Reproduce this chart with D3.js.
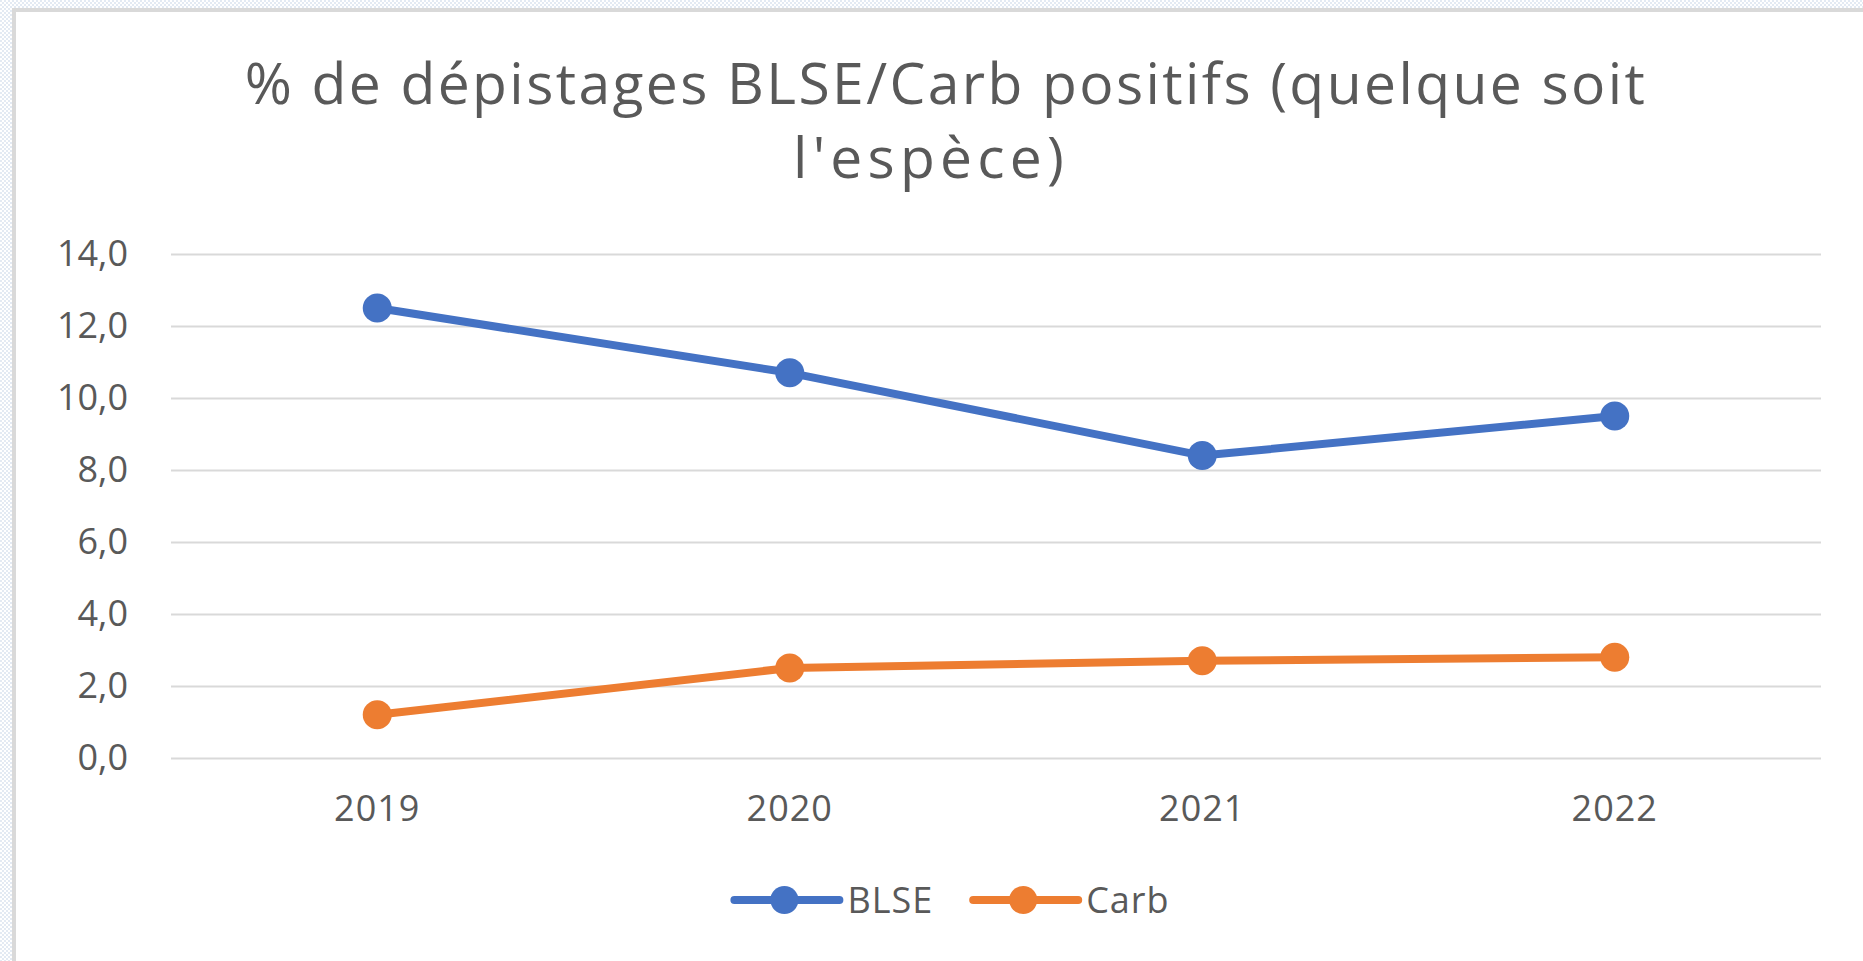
<!DOCTYPE html>
<html>
<head>
<meta charset="utf-8">
<script src="https://cdn.jsdelivr.net/npm/d3@7"></script>
<style>
  html, body { margin: 0; padding: 0; background: #fff; }
  svg { display: block; }
  text { font-family: 'Open Sans', 'Noto Sans', sans-serif; fill: #595959; }
</style>
</head>
<body>
<svg id="chart" width="1863" height="961"></svg>
<script>
// chart data
const years = ['2019', '2020', '2021', '2022'];
const blse = [12.5, 10.7, 8.4, 9.5];
const carb = [1.2, 2.5, 2.7, 2.8];
const yTicks = [0, 2, 4, 6, 8, 10, 12, 14];
const titleLines = ['% de dépistages BLSE/Carb positifs (quelque soit', 'l\'espèce)'];

const series = [
  { name: 'BLSE', values: blse, color: '#4472C4' },
  { name: 'Carb', values: carb, color: '#ED7D31' }
];

const width = 1863;
const height = 961;
const margin = { top: 254, right: 42, bottom: 203, left: 171 };
const plotW = width - margin.left - margin.right;
const plotH = height - margin.top - margin.bottom;

const svg = d3.select('#chart');

// checkered background outside the chart frame
const defs = svg.append('defs');
const pat = defs.append('pattern')
  .attr('id', 'checker')
  .attr('width', 4).attr('height', 4)
  .attr('patternUnits', 'userSpaceOnUse');
pat.append('rect').attr('width', 4).attr('height', 4).attr('fill', '#ffffff');
pat.append('rect').attr('width', 2).attr('height', 2).attr('fill', '#e3eaf3');
pat.append('rect').attr('x', 2).attr('y', 2).attr('width', 2).attr('height', 2).attr('fill', '#e3eaf3');

svg.append('rect')
  .attr('width', width).attr('height', height)
  .attr('fill', 'url(#checker)');

// chart frame
svg.append('rect')
  .attr('x', 14).attr('y', 10)
  .attr('width', width).attr('height', height)
  .attr('fill', '#ffffff')
  .attr('stroke', '#d9d9d9')
  .attr('stroke-width', 4);

// title (two lines, as wrapped in the original)
svg.append('text')
  .attr('x', 946).attr('y', 104)
  .attr('text-anchor', 'middle')
  .style('font-size', '57px')
  .style('letter-spacing', '2.4px')
  .text(titleLines[0]);
svg.append('text')
  .attr('x', 931).attr('y', 178)
  .attr('text-anchor', 'middle')
  .style('font-size', '57px')
  .style('letter-spacing', '5.2px')
  .text(titleLines[1]);

const g = svg.append('g')
  .attr('transform', `translate(${margin.left},${margin.top})`);

const x = d3.scaleBand().domain(years).range([0, plotW]);
const y = d3.scaleLinear().domain([0, 14]).range([plotH, 0]);
const cx = d => x(d) + x.bandwidth() / 2;

// y axis with gridlines
const yAxis = g.append('g')
  .attr('class', 'axis axis--y')
  .call(d3.axisLeft(y).tickValues(yTicks).tickSize(-plotW).tickPadding(43)
    .tickFormat(d => d.toFixed(1).replace('.', ',')));
yAxis.select('.domain').remove();
yAxis.selectAll('.tick line')
  .attr('stroke', '#d9d9d9')
  .attr('stroke-width', 2);
yAxis.selectAll('.tick text')
  .style('font-size', '36px')
  .attr('fill', '#595959');

// x axis labels
const xAxis = g.append('g')
  .attr('class', 'axis axis--x')
  .attr('transform', `translate(0,${plotH})`)
  .call(d3.axisBottom(x).tickSize(0));
xAxis.select('.domain').remove();
xAxis.selectAll('.tick text')
  .style('font-size', '36px')
  .style('letter-spacing', '1px')
  .attr('fill', '#595959')
  .attr('y', 63)
  .attr('dy', 0);

// lines and markers
const line = d3.line()
  .x((d, i) => cx(years[i]))
  .y(d => y(d));

series.forEach(s => {
  g.append('path')
    .datum(s.values)
    .attr('d', line)
    .attr('fill', 'none')
    .attr('stroke', s.color)
    .attr('stroke-width', 8)
    .attr('stroke-linejoin', 'round')
    .attr('stroke-linecap', 'round');

  g.selectAll(null)
    .data(s.values)
    .enter()
    .append('circle')
    .attr('cx', (d, i) => cx(years[i]))
    .attr('cy', d => y(d))
    .attr('r', 14.5)
    .attr('fill', s.color);
});

// legend
const legend = svg.append('g').attr('class', 'legend');
let lx = 0;
series.forEach((s, i) => {
  const item = legend.append('g').attr('transform', `translate(${lx},0)`);
  item.append('line')
    .attr('x1', 0).attr('x2', 105)
    .attr('y1', 0).attr('y2', 0)
    .attr('stroke', s.color)
    .attr('stroke-width', 8)
    .attr('stroke-linecap', 'round');
  item.append('circle')
    .attr('cx', 50).attr('cy', 0)
    .attr('r', 14)
    .attr('fill', s.color);
  const t = item.append('text')
    .attr('x', 113).attr('y', 13)
    .style('font-size', '36px')
    .style('letter-spacing', '1px')
    .text(s.name);
  lx += 113 + t.node().getComputedTextLength() + 40;
});
const legendW = lx - 40;
legend.attr('transform', `translate(${952 - legendW / 2},900)`);
</script>
</body>
</html>
